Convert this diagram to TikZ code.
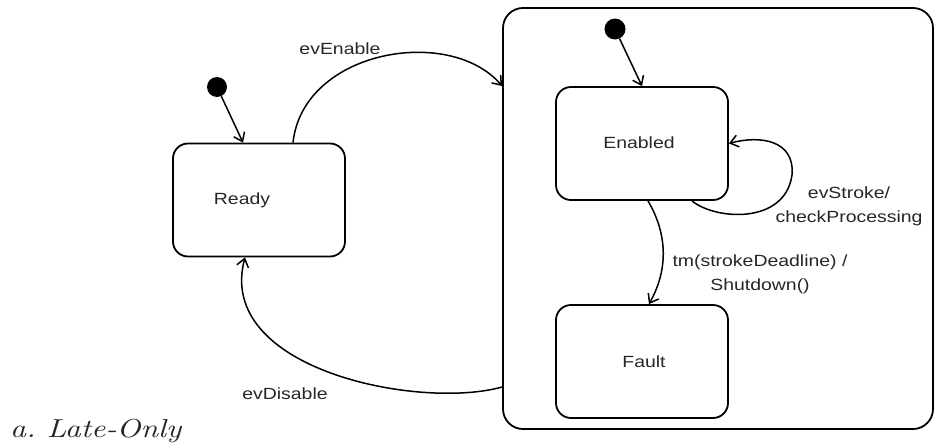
\documentclass[tikz,border=0pt]{standalone}
\usepackage{fontspec}
\setmainfont{Liberation Sans}[FakeStretch=1.2]
\newfontfamily\capfont{lmroman10-italic.otf}[FakeStretch=1.2]
\usetikzlibrary{arrows.meta}
\begin{document}
\begin{tikzpicture}[x=1pt,y=-1pt,
  state/.style={draw,line width=1.8pt,rounded corners=15pt,minimum width=172pt,minimum height=113pt,inner sep=0pt},
  initdot/.style={circle,fill=black,inner sep=0pt,minimum size=20pt},
  lbl/.style={text=black!85,font=\fontsize{16.2}{24}\selectfont,inner sep=0pt,align=center},
  arr/.style={line width=1.5pt,-{Straight Barb[length=8pt,width=12pt,line width=1.5pt]}}]
\useasboundingbox (0,0) rectangle (936,447);
% container
\node[draw,line width=1.8pt,rounded corners=20pt,minimum width=430pt,minimum height=421pt,inner sep=0pt] (cont) at (718,218.5) {};
% states
\node[state] (ready) at (259,200) {};
\node[lbl] (readylbl) at (242,200) {Ready};
\node[state] (enabled) at (642,143.5) {};
\node[lbl] (enabledlbl) at (639,143) {Enabled};
\node[state] (fault) at (642,361.5) {};
\node[lbl] (faultlbl) at (644,362) {Fault};
% initial pseudostates
\node[initdot] (init1) at (217,87) {};
\node[initdot,minimum size=21pt] (init2) at (615,29) {};
% transitions
\draw[arr] (init1) -- ([xshift=-16pt]ready.north);
\draw[arr] (init2) -- (enabled.north);
\draw[arr] ([xshift=34pt]ready.north) .. controls (303,50) and (450,25) .. ([yshift=132.5pt]cont.west);
\draw[arr] ([xshift=50pt]enabled.south) .. controls (715,220) and (785,225) .. (792,175) .. controls (795,140) and (760,135) .. (enabled.east);
\draw[arr] ([xshift=6pt]enabled.south) .. controls (668,235) and (668,270) .. ([xshift=7pt]fault.north);
\draw[arr] ([yshift=-168.5pt]cont.west) .. controls (420,410) and (215,370) .. ([xshift=-14pt]ready.south);
% labels
\node[lbl] (l1) at (340,49) {evEnable};
\node[lbl] (l2) at (849,206) {evStroke/\\checkProcessing};
\node[lbl] (l3) at (760,274.5) {tm(strokeDeadline) /\\Shutdown()};
\node[lbl] (l4) at (285,394) {evDisable};
\node[anchor=base west,inner sep=0pt,text=black!85,font=\capfont\fontsize{26}{30}\selectfont] (cap) at (10,437) {a.\ Late-Only};
\end{tikzpicture}
\end{document}
